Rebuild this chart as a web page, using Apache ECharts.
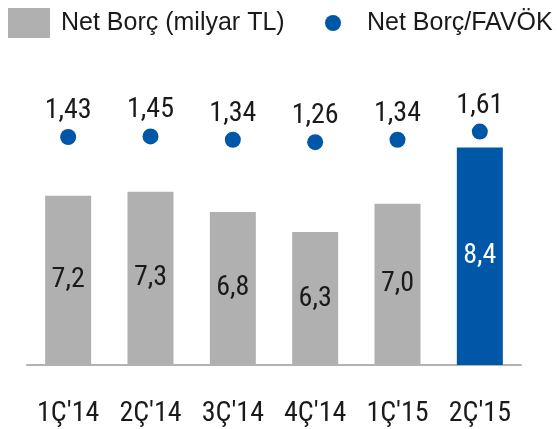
<!DOCTYPE html>
<html>
<head>
<meta charset="utf-8">
<script src="https://cdn.jsdelivr.net/npm/echarts@6/dist/echarts.min.js"></script>
<style>html,body{margin:0;padding:0;background:#fff}#c{width:557px;height:429px}</style>
</head>
<body>
<div id="c"></div>
<script>
const categories = ["1Ç'14", "2Ç'14", "3Ç'14", "4Ç'14", "1Ç'15", "2Ç'15"];
const netBorc = [7.2, 7.3, 6.8, 6.3, 7.0, 8.4];
const netBorcFavok = [1.43, 1.45, 1.34, 1.26, 1.34, 1.61];
const highlightIndex = 5;

const GREY = '#b0b0b0';
const BLUE = '#0057a8';
const TEXT = '#1a1a1a';
const NUM_FONT = '"Roboto Condensed", "Liberation Sans Narrow", Roboto, sans-serif';
const LEG_FONT = '"Liberation Sans", Arial, sans-serif';

const chart = echarts.init(document.getElementById('c'), null, {renderer: 'canvas'});
chart.setOption({
  animation: false,
  backgroundColor: '#fff',
  legend: [
    {
      data: ['Net Borç (milyar TL)'],
      left: 8, top: 8, padding: 0,
      itemWidth: 42, itemHeight: 30,
      icon: 'rect',
      textStyle: {fontFamily: LEG_FONT, fontSize: 25, color: TEXT, lineHeight: 30, padding: [0, 0, 0, 6]}
    },
    {
      data: ['Net Borç/FAVÖK'],
      left: 325, top: 8, padding: 0,
      itemWidth: 16, itemHeight: 16,
      icon: 'circle',
      itemStyle: {opacity: 1},
      textStyle: {fontFamily: LEG_FONT, fontSize: 25, color: TEXT, lineHeight: 30, padding: [0, 0, 0, 21]}
    }
  ],
  grid: {left: 27, right: 36, top: 83, bottom: 64},
  xAxis: {
    type: 'category',
    data: categories,
    axisLine: {onZero: false, lineStyle: {color: '#b3b3b3', width: 2}},
    axisTick: {show: false},
    axisLabel: {interval: 0, fontFamily: NUM_FONT, fontSize: 28, color: TEXT, margin: 35}
  },
  yAxis: [
    {type: 'value', min: 3, max: 10, show: false, splitLine: {show: false}},
    {type: 'value', min: -6.119, max: 3.219, show: false, splitLine: {show: false}}
  ],
  series: [
    {
      name: 'Net Borç (milyar TL)',
      type: 'bar',
      yAxisIndex: 0,
      barWidth: 46,
      clip: true,
      itemStyle: {color: GREY},
      data: netBorc.map((v, i) => i === highlightIndex
        ? {value: v, itemStyle: {color: BLUE}, label: {color: '#fff'}}
        : v),
      label: {
        show: true, position: 'inside',
        fontFamily: NUM_FONT, fontSize: 28, color: TEXT,
        formatter: p => p.value.toFixed(1).replace('.', ',')
      }
    },
    {
      name: 'Net Borç/FAVÖK',
      type: 'scatter',
      yAxisIndex: 1,
      symbol: 'circle',
      symbolSize: 16,
      itemStyle: {color: BLUE, opacity: 1},
      data: netBorcFavok,
      label: {
        show: true, position: 'top', distance: 4,
        fontFamily: NUM_FONT, fontSize: 28, color: TEXT,
        formatter: p => p.value.toFixed(2).replace('.', ',')
      }
    }
  ]
});
</script>
</body>
</html>
